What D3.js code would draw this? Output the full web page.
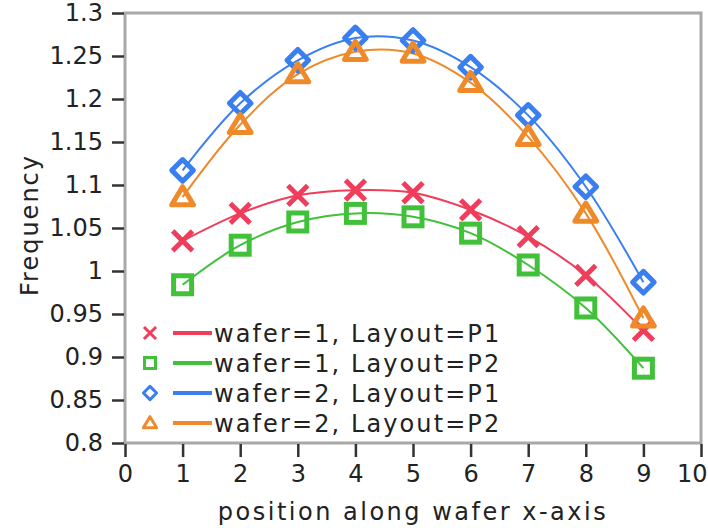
<!DOCTYPE html>
<html>
<head>
<meta charset="utf-8">
<script src="https://d3js.org/d3.v7.min.js"></script>
<style>
    body { margin: 0; background: #fff; }
    text { font-family: "DejaVu Sans", sans-serif; fill: #222; }
    .frame { fill: none; stroke: #a8a8a8; stroke-width: 3; }
    .tickmark { stroke: #333; stroke-width: 2.5; }
    .curve { fill: none; stroke-width: 2; }
</style>
</head>
<body>
<div id="chart"></div>
<script>
// positions along the wafer
var positions = [1, 2, 3, 4, 5, 6, 7, 8, 9];

// frequency values
var wafer1P1 = [1.035, 1.067, 1.088, 1.094, 1.091, 1.071, 1.040, 0.995, 0.931];
var wafer1P2 = [0.984, 1.030, 1.057, 1.067, 1.063, 1.044, 1.007, 0.957, 0.887];
var wafer2P1 = [1.117, 1.195, 1.245, 1.271, 1.268, 1.237, 1.181, 1.098, 0.987];
var wafer2P2 = [1.086, 1.170, 1.229, 1.255, 1.253, 1.219, 1.156, 1.067, 0.945];

var seriesNames = ["wafer=1, Layout=P1", "wafer=1, Layout=P2", "wafer=2, Layout=P1", "wafer=2, Layout=P2"];

var xTicks = [0, 1, 2, 3, 4, 5, 6, 7, 8, 9, 10];
var yTicks = [0.8, 0.85, 0.9, 0.95, 1, 1.05, 1.1, 1.15, 1.2, 1.25, 1.3];

function init() {

    var w = 708;
    var h = 528;

    var left = 125, right = 701, top = 13, bottom = 443;

    var series = [
        { name: seriesNames[0], values: wafer1P1, color: "#ef3d5b", marker: "cross" },
        { name: seriesNames[1], values: wafer1P2, color: "#41c03a", marker: "square" },
        { name: seriesNames[2], values: wafer2P1, color: "#3a7ff0", marker: "diamond" },
        { name: seriesNames[3], values: wafer2P2, color: "#ef8a2a", marker: "triangle" }
    ];

    var xScale = d3.scaleLinear().domain([0, 10]).range([left, right]);
    var yScale = d3.scaleLinear().domain([0.8, 1.3]).range([bottom, top]);

    var svg = d3.select("#chart")
                .append("svg")
                .attr("width", w)
                .attr("height", h);

    // plot frame
    svg.append("rect")
        .attr("class", "frame")
        .attr("x", left)
        .attr("y", top)
        .attr("width", right - left)
        .attr("height", bottom - top);

    // y axis
    var yAxis = d3.axisLeft(yScale)
                .tickValues(yTicks)
                .tickSize(12)
                .tickPadding(9)
                .tickFormat(function(d) { return d3.format("~g")(d); });

    var gy = svg.append("g")
        .attr("transform", "translate(" + (left - 1) + ",0)")
        .call(yAxis);
    gy.select(".domain").remove();
    gy.selectAll("line").attr("class", "tickmark");
    gy.selectAll("text").style("font-size", "24px").style("fill", "#222");

    // x axis
    var xAxis = d3.axisBottom(xScale)
                .tickValues(xTicks)
                .tickSize(13)
                .tickPadding(8);

    var gx = svg.append("g")
        .attr("transform", "translate(0," + (bottom + 1) + ")")
        .call(xAxis);
    gx.select(".domain").remove();
    gx.selectAll("line").attr("class", "tickmark");
    gx.selectAll("text").style("font-size", "24px").style("fill", "#222");
    // last label sits inside the window, like the original
    gx.selectAll("text").filter(function(d) { return d === 10; })
        .attr("text-anchor", "end")
        .attr("x", 6);

    // axis titles
    svg.append("text")
        .attr("x", (left + right) / 2)
        .attr("y", 520)
        .attr("text-anchor", "middle")
        .style("font-size", "24px")
        .style("letter-spacing", "2.5px")
        .text("position along wafer x-axis");

    svg.append("text")
        .attr("transform", "translate(38," + 225 + ") rotate(-90)")
        .attr("text-anchor", "middle")
        .style("font-size", "24px")
        .style("letter-spacing", "2px")
        .text("Frequency");

    var line = d3.line()
                 .x(function(d, i) { return xScale(positions[i]); })
                 .y(function(d) { return yScale(d); })
                 .curve(d3.curveCatmullRom.alpha(0.5));

    function drawMarker(g, type, x, y, s, color, sw) {
        if (type === "cross") {
            var c = s * 1.1;
            g.append("path")
                .attr("d", "M" + (x - c) + "," + (y - c) + "L" + (x + c) + "," + (y + c) +
                           "M" + (x - c) + "," + (y + c) + "L" + (x + c) + "," + (y - c))
                .attr("stroke", color).attr("stroke-width", sw).attr("fill", "none");
        } else if (type === "square") {
            g.append("rect")
                .attr("x", x - s).attr("y", y - s)
                .attr("width", 2 * s).attr("height", 2 * s)
                .attr("stroke", color).attr("stroke-width", sw).attr("fill", "none");
        } else if (type === "diamond") {
            var d = s * 1.2;
            g.append("path")
                .attr("d", "M" + x + "," + (y - d) + "L" + (x + d) + "," + y +
                           "L" + x + "," + (y + d) + "L" + (x - d) + "," + y + "Z")
                .attr("stroke", color).attr("stroke-width", sw).attr("fill", "none")
                .attr("stroke-linejoin", "round");
        } else {
            var t = s * 1.15;
            g.append("path")
                .attr("d", "M" + x + "," + (y - t) + "L" + (x + t * 1.05) + "," + (y + t * 0.75) +
                           "L" + (x - t * 1.05) + "," + (y + t * 0.75) + "Z")
                .attr("stroke", color).attr("stroke-width", sw).attr("fill", "none")
                .attr("stroke-linejoin", "round");
        }
    }

    series.forEach(function(s) {
        svg.append("path")
            .datum(s.values)
            .attr("class", "curve")
            .attr("stroke", s.color)
            .attr("d", line);
    });

    series.forEach(function(s) {
        var g = svg.append("g");
        s.values.forEach(function(v, i) {
            drawMarker(g, s.marker, xScale(positions[i]), yScale(v), 9, s.color, 5);
        });
    });

    // legend
    var legend = svg.append("g");
    series.forEach(function(s, i) {
        var y = 333 + i * 30;
        drawMarker(legend, s.marker, 150, y, 5.5, s.color, 3);
        legend.append("line")
            .attr("x1", 173).attr("x2", 212)
            .attr("y1", y).attr("y2", y)
            .attr("stroke", s.color)
            .attr("stroke-width", 4);
        legend.append("text")
            .attr("x", 214)
            .attr("y", y + 9)
            .style("font-size", "24px")
            .style("letter-spacing", "2.1px")
            .text(s.name);
    });
}

window.onload = init;
</script>
</body>
</html>
